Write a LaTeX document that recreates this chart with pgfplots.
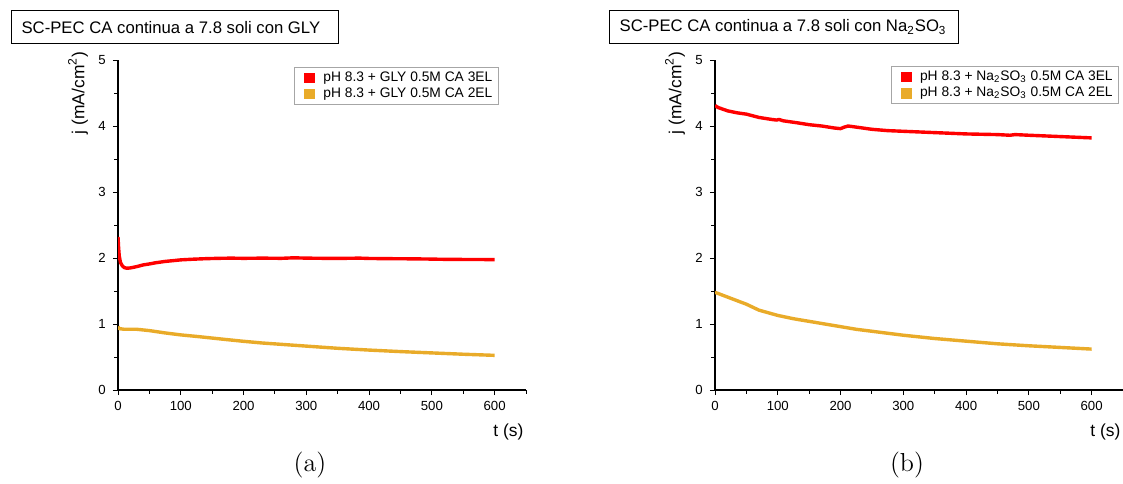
\documentclass[border=0pt]{standalone}
\usepackage{pgfplots}
\pgfplotsset{compat=1.18}
\usepackage{fontspec}
\newfontfamily\arial{Liberation Sans}
\definecolor{cred}{RGB}{255,0,0}
\definecolor{corange}{RGB}{233,171,41}
\pgfplotsset{
  myax/.style={
    scale only axis, width=204pt, height=165pt,
    xmin=0, xmax=650, ymin=0, ymax=5,
    axis x line*=bottom, axis y line*=left,
    axis line style={-, line width=0.6pt},
    xtick={0,100,...,600}, minor xtick={50,150,...,650},
    ytick={0,1,...,5}, minor ytick={0.5,1.5,...,4.5},
    tick align=outside, major tick length=2.6pt, minor tick length=1.8pt,
    tick style={line width=0.5pt, black},
    /pgf/number format/assume math mode=true,
    tick label style={font=\arial\fontsize{6.6}{8}\selectfont},
    xticklabel style={yshift=0.5pt},
    xlabel={t (s)}, ylabel={j (mA/cm\textsuperscript{2})},
    every axis x label/.style={at={(axis description cs:0.957,-0.127)}, anchor=center,
      font=\arial\fontsize{8.7}{10}\selectfont},
    every axis y label/.style={at={(axis description cs:-0.098,0.9)}, rotate=90, anchor=center,
      font=\arial\fontsize{8.7}{10}\selectfont},
    legend cell align=left,
    legend image code/.code={\path[draw=none,fill=none] (0pt,0pt) -- (11.5pt,0pt);\fill[##1,draw=none] (2.8pt,-2.7pt) rectangle (8.2pt,2.7pt);},
    legend style={anchor=north west, draw=gray!70, line width=0.5pt,
      font=\arial\fontsize{6.9}{8}\selectfont, inner xsep=2pt, inner ysep=1.3pt,
      nodes={inner sep=0.85pt}},
    every axis plot/.append style={line width=1.7pt, no markers, line join=round},
  }
}
\begin{document}
\begin{tikzpicture}
\useasboundingbox (0,0) rectangle (561.5pt,241.5pt);
% titles
\node[draw, line width=0.6pt, anchor=north west,
  inner xsep=5pt, minimum height=16.5pt, font=\arial\fontsize{8.35}{10}\selectfont]
  at (5.5pt,236.5pt) {\makebox[153.5pt][l]{SC-PEC CA continua a 7.8 soli con GLY}};
\node[draw, line width=0.6pt, anchor=north west,
  inner xsep=5pt, minimum height=16.5pt, font=\arial\fontsize{8.35}{10}\selectfont]
  at (304.5pt,236.5pt) {\makebox[164.5pt][l]{SC-PEC CA continua a 7.8 soli con Na\textsubscript{2}SO\textsubscript{3}}};
% panel a
\begin{axis}[myax, at={(59pt,46.5pt)}, anchor=origin,
  legend style={at={(rel axis cs:0.432,0.979)}}]
\addplot[color=cred] coordinates {
(0,2.32) (1,2.15) (2,2.03) (4,1.93) (7,1.88) (10,1.855) (14,1.845) (20,1.85)
(30,1.87) (40,1.895) (50,1.91) (60,1.928) (75,1.948) (90,1.962) (100,1.972)
(120,1.982) (140,1.99) (160,1.995) (180,1.998) (200,1.995) (230,1.998) (260,1.995)
(280,2.003) (300,1.998) (330,1.995) (360,1.995) (385,1.998) (400,1.993) (430,1.99)
(460,1.988) (490,1.985) (520,1.98) (550,1.978) (580,1.977) (600,1.975)};
\addlegendentry{pH 8.3 + GLY 0.5M CA 3EL}
\addplot[color=corange] coordinates {
(0,0.96) (2,0.93) (10,0.92) (30,0.92) (50,0.90) (75,0.865) (100,0.835) (125,0.812)
(150,0.787) (175,0.762) (200,0.738) (230,0.712) (260,0.692) (300,0.665) (350,0.632)
(400,0.605) (450,0.582) (500,0.562) (550,0.542) (600,0.525)};
\addlegendentry{pH 8.3 + GLY 0.5M CA 2EL}
\end{axis}
% panel b
\begin{axis}[myax, at={(357.5pt,46.5pt)}, anchor=origin,
  legend style={at={(rel axis cs:0.431,0.982)}}]
\addplot[color=cred] coordinates {
(0,4.31) (5,4.28) (20,4.23) (35,4.2) (50,4.18) (70,4.13) (90,4.1) (98,4.09)
(102,4.1) (108,4.08) (130,4.05) (150,4.02) (170,4.0) (190,3.97) (200,3.96)
(205,3.98) (212,4.0) (220,3.99) (235,3.97) (250,3.95) (275,3.93) (300,3.92)
(350,3.9) (400,3.88) (450,3.87) (470,3.86) (478,3.87) (500,3.86) (550,3.84) (600,3.82)};
\addlegendentry{pH 8.3 + Na\textsubscript{2}SO\textsubscript{3} 0.5M CA 3EL}
\addplot[color=corange] coordinates {
(0,1.48) (25,1.39) (50,1.30) (70,1.21) (100,1.13) (125,1.08) (150,1.04) (175,1.0)
(200,0.96) (225,0.92) (250,0.89) (275,0.86) (300,0.83) (350,0.78) (400,0.74)
(450,0.70) (500,0.67) (550,0.645) (600,0.62)};
\addlegendentry{pH 8.3 + Na\textsubscript{2}SO\textsubscript{3} 0.5M CA 2EL}
\end{axis}
% subcaptions
\node[font=\fontsize{13}{15}\selectfont] at (155pt,9pt) {(a)};
\node[font=\fontsize{13}{15}\selectfont] at (453.5pt,9pt) {(b)};
\end{tikzpicture}
\end{document}
